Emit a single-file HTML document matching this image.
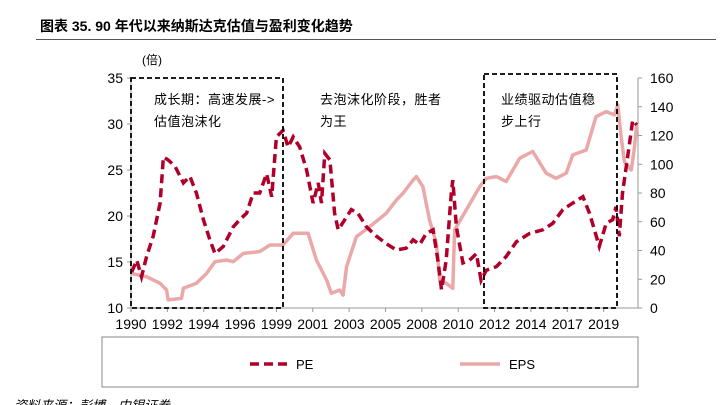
<!DOCTYPE html>
<html><head><meta charset="utf-8"><style>
body{margin:0;background:#fff;width:726px;height:405px;overflow:hidden;font-family:"Liberation Sans","Noto Sans CJK SC",sans-serif}
</style></head><body>
<svg width="726" height="405" style="position:absolute;left:0;top:0">
<text x="40" y="31" font-size="14" font-weight="bold" fill="#000" font-family="Liberation Sans,Noto Sans CJK SC,sans-serif">图表 35. 90 年代以来纳斯达克估值与盈利变化趋势</text>
<line x1="36" y1="39.5" x2="716" y2="39.5" stroke="#555" stroke-width="1"/>
<text x="142" y="64" font-size="12">(倍)</text>
<g id="axes"></g>
<g id="marks"></g>
<rect x="102" y="337" width="536" height="50" fill="none" stroke="#888"/>
<line x1="250" y1="364" x2="290" y2="364" stroke="#b0002a" stroke-width="3.5" stroke-dasharray="9,5"/>
<text x="296" y="369" font-size="13">PE</text>
<line x1="460" y1="364" x2="500" y2="364" stroke="#eba8a8" stroke-width="3.5"/>
<text x="509" y="369" font-size="13">EPS</text>
<text x="14" y="410" font-size="13" font-style="italic">资料来源：彭博，中银证券</text>
</svg>
<script>
const xTicks=["1990","1992","1994","1996","1999","2001","2003","2005","2008","2010","2012","2014","2017","2019"];
const leftTicks=[10,15,20,25,30,35];
const rightTicks=[0,20,40,60,80,100,120,140,160];
const peT=[0.2,1.6,2.9,4.3,6.1,8,8.9,10.2,12.1,14.4,16.2,18,19.9,21.7,23.1,25.4,28.1,29.9,31.8,33.6,35.4,37.3,38.7,40,41.8,43.2,44.6,46.4,48.3,50.1,51.5,52.4,53.3,54.7,56,57,58.8,60.6,62.4,64.8,67.5,70.2,73,75.7,77.6,79.4,81.2,83.1,84.4,85.4,86.7,88.1,88.5,89.5,91.3,93.1,95,96.3,97.7,100.5,103.2,106,109.6,113.3,116,118.8,121.5,124.3,126.1,128.8,130.7,132.5,133.4,134.3,135.2,136.6,138,139.1];
const peV=[13.9,15.2,13.4,15.6,17.8,21.4,26.4,26.1,25.4,23.6,24.3,22.5,19.6,17.4,15.9,16.7,18.8,19.6,20.3,22.5,22.5,24.6,22.1,28.6,29.3,27.5,28.6,27.5,25,21.4,23.6,21.4,26.8,26.1,20.3,18.5,19.6,20.7,20.3,18.8,17.8,17,16.3,16.5,17.4,16.9,18.1,18.5,15.2,12,15.2,22.5,23.9,18.8,14.9,15.2,15.9,13,14.1,14.5,15.6,17.2,18.1,18.5,19.2,20.7,21.4,22.1,20.3,16.7,19.2,19.6,21,17.8,22.5,26.4,30.4,29.9];
const epsT=[0.2,4.3,8,9.8,10.2,13.9,14.4,18,20.8,23.1,26.3,28.1,30.9,35.4,38.2,41.8,44.6,48.7,51,53.8,55.1,57.4,58.3,59.3,62,65.7,70.2,73,74.8,77.6,78.5,80.3,82.1,84,84.9,86.7,88.5,89,92.2,95.9,97.7,100.5,103.2,106.9,110.5,114.2,116.9,119.7,121.5,125.2,127.9,130.7,133,133.9,134.8,135.7,137.6,138.5,139.1];
const epsV=[24.1,21.8,17.2,12.5,5.6,6.7,13.7,17.2,24.1,32.2,33.4,32.2,38,39.2,43.8,43.8,52,52,33.4,19.5,10.2,12.5,9,28.7,49.6,56.7,65.9,75.1,79.8,89,91.4,84.4,61.2,45,19.5,17.2,13.7,54.3,68.2,84.4,90.2,91.4,88,104.2,108.9,93.8,90.2,93.8,106.4,109.9,133.1,136.6,134.3,141.2,119.2,101.8,96,112.2,127.5];
const X0=131,X1=640,T=140,YT=78,YB=308;
const xs=t=>X0+(X1-X0)*t/T;
const yl=v=>YB-(v-10)/25*(YB-YT);
const yr=v=>YB-v/160*(YB-YT);
const NS="http://www.w3.org/2000/svg";
const ax=document.getElementById('axes'),mk=document.getElementById('marks');
function mkEl(tag,attrs,parent){const e=document.createElementNS(NS,tag);for(const k in attrs)e.setAttribute(k,attrs[k]);parent.appendChild(e);return e;}
let e=mkEl('line',{x1:X0,y1:YT,x2:X0,y2:YB,stroke:'#999'},ax);


e=mkEl('line',{x1:X1-2,y1:YT,x2:X1-2,y2:YB,stroke:'#999'},ax);


e=mkEl('line',{x1:X0,y1:YB,x2:X1-2,y2:YB,stroke:'#999'},ax);


leftTicks.forEach(v=>{const y=yl(v);mkEl('line',{x1:X0-4,y1:y,x2:X0,y2:y,stroke:'#999'},ax);
const t=mkEl('text',{x:X0-8,y:y+5,'font-size':14,'text-anchor':'end'},ax);t.textContent=v;

});
rightTicks.forEach(v=>{const y=yr(v);mkEl('line',{x1:X1-2,y1:y,x2:X1+2,y2:y,stroke:'#999'},ax);
const t=mkEl('text',{x:X1+10,y:y+5,'font-size':14},ax);t.textContent=v;

});
xTicks.forEach((l,i)=>{const x=xs(i*10);mkEl('line',{x1:x,y1:YB,x2:x,y2:YB+4,stroke:'#999'},ax);
const t=mkEl('text',{x:x,y:YB+21,'font-size':14,'text-anchor':'middle'},ax);t.textContent=l;

});
function path(T_,V,f){return T_.map((t,i)=>(i?'L':'M')+xs(t).toFixed(1)+','+f(V[i]).toFixed(1)).join('');}
e=mkEl('path',{d:path(epsT,epsV,yr),fill:'none',stroke:'#eba8a8','stroke-width':3.5,'stroke-linejoin':'round'},mk);


e=mkEl('path',{d:path(peT,peV,yl),fill:'none',stroke:'#b0002a','stroke-width':3.5,'stroke-dasharray':'9,5'},mk);


e=mkEl('rect',{x:131,y:78,width:152,height:230,fill:'none',stroke:'#000','stroke-width':1.8,'stroke-dasharray':'5,3'},mk);


e=mkEl('rect',{x:484,y:74,width:133,height:234,fill:'none',stroke:'#000','stroke-width':1.8,'stroke-dasharray':'5,3'},mk);


[[154,104,'成长期：高速发展->'],[154,126,'估值泡沫化'],[320,104,'去泡沫化阶段，胜者'],[320,126,'为王'],[501,104,'业绩驱动估值稳'],[501,126,'步上行']].forEach(a=>{
const t=mkEl('text',{x:a[0],y:a[1],'font-size':13,'letter-spacing':'0.5'},mk);t.textContent=a[2];

});
</script>
</body></html>
